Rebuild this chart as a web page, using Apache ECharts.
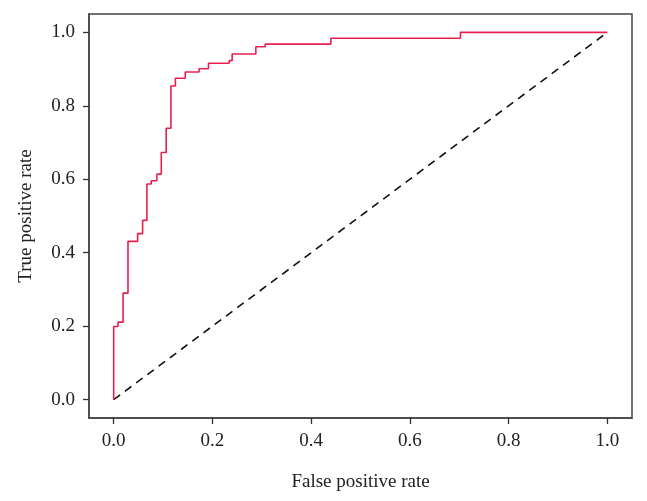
<!DOCTYPE html>
<html>
<head>
<meta charset="utf-8">
<script src="https://cdn.jsdelivr.net/npm/echarts@6/dist/echarts.min.js"></script>
<style>html,body{margin:0;padding:0;background:#fff}#c{width:647px;height:501px}</style>
</head>
<body>
<div id="c"></div>
<script>
var fpr = [0, 0, 0.0088, 0.019, 0.029, 0.0485, 0.0586, 0.0673, 0.076, 0.0875, 0.0964, 0.1064, 0.116, 0.125, 0.145, 0.173, 0.192, 0.234, 0.240, 0.288, 0.307, 0.44, 0.7025, 1.0];
var tpr = [0, 0.199, 0.211, 0.29, 0.431, 0.452, 0.488, 0.587, 0.596, 0.614, 0.673, 0.739, 0.854, 0.875, 0.892, 0.901, 0.916, 0.923, 0.941, 0.961, 0.968, 0.984, 1.0, 1.0];
var diagX = [0, 1];
var diagY = [0, 1];
var tickValues = [0, 0.2, 0.4, 0.6, 0.8, 1.0];

var font = '"Liberation Serif", "DejaVu Serif", serif';
var chart = echarts.init(document.getElementById('c'));
function axis(name, gap) {
  return {
    type: 'value', min: -0.05, max: 1.05,
    name: name, nameLocation: 'middle', nameGap: gap,
    nameTextStyle: {fontFamily: font, fontSize: 19, color: '#222'},
    axisLine: {show: true, onZero: false, lineStyle: {color: '#444', width: 1.5}},
    splitLine: {show: false},
    axisTick: {show: true, inside: false, length: 6, customValues: tickValues, lineStyle: {color: '#333', width: 1.3}},
    axisLabel: {customValues: tickValues, fontFamily: font, fontSize: 19, color: '#222', margin: 14,
      formatter: function (v) { return v.toFixed(1); }}
  };
}
chart.setOption({
  animation: false,
  grid: {left: 89, right: 15, top: 14, bottom: 83, show: true, borderColor: '#444', borderWidth: 1.5, backgroundColor: 'transparent'},
  xAxis: axis('False positive rate', 55),
  yAxis: axis('True positive rate', 53),
  series: [
    {type: 'line', data: diagX.map(function (x, i) { return [x, diagY[i]]; }), symbol: 'none',
      lineStyle: {color: '#111', width: 1.6, type: [8, 6]}},
    {type: 'line', step: 'end', data: fpr.map(function (x, i) { return [x, tpr[i]]; }), symbol: 'none',
      lineStyle: {color: '#e8204e', width: 1.6}}
  ]
});
</script>
</body>
</html>
